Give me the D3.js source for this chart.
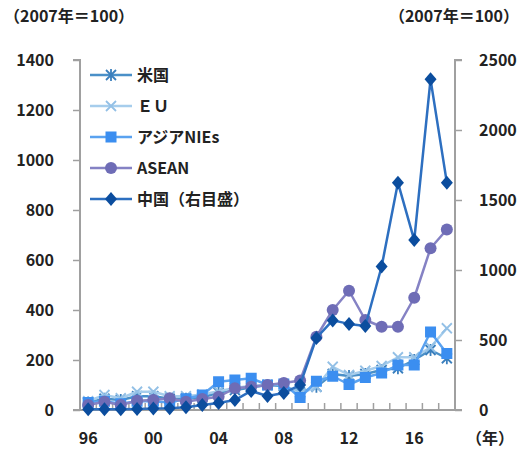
<!DOCTYPE html>
<html>
<head>
<meta charset="utf-8">
<script src="https://cdn.jsdelivr.net/npm/d3@7/dist/d3.min.js"></script>
<style>
  html, body { margin: 0; padding: 0; background: #fff; }
  svg { display: block; }
  text { font-family: "Noto Sans CJK JP", "Noto Sans", sans-serif; fill: #222; }
</style>
</head>
<body>
<svg id="chart" width="523" height="452"></svg>
<script>
// Years 1996–2018
const years = d3.range(1996, 2019);
const xTickLabels = ["96", "00", "04", "08", "12", "16"];

// Export indices (2007 = 100), left axis
const usa    = [30, 45, 40, 55, 55, 45, 45, 50, 70, 80, 90, 100, 95, 70, 93, 144, 136, 144, 160, 167, 200, 240, 207];
const eu     = [35, 60, 47, 73, 73, 55, 55, 62, 75, 88, 97, 100, 100, 65, 93, 173, 140, 157, 176, 211, 211, 251, 327];
const nies   = [30, 35, 25, 35, 35, 30, 45, 60, 113, 120, 127, 100, 104, 50, 115, 135, 102, 130, 148, 180, 180, 312, 226];
const asean  = [20, 33, 20, 37, 40, 47, 33, 44, 53, 87, 93, 100, 108, 118, 293, 400, 477, 360, 333, 333, 449, 647, 722];
// China, right axis
const china  = [5, 6, 6, 8, 10, 12, 20, 35, 50, 71, 136, 100, 121, 179, 515, 640, 615, 600, 1025, 1624, 1214, 2362, 1624];

const leftTicks = [0, 200, 400, 600, 800, 1000, 1200, 1400];
const rightTicks = [0, 500, 1000, 1500, 2000, 2500];
const legendNames = ["米国", "ＥＵ", "アジアNIEs", "ASEAN", "中国（右目盛）"];

const svg = d3.select("#chart");
const plotL = 80, plotR = 455, plotT = 60, plotB = 410;

const x = d3.scaleBand().domain(years).range([plotL, plotR]);
const yL = d3.scaleLinear().domain([0, 1400]).range([plotB, plotT]);
const yR = d3.scaleLinear().domain([0, 2500]).range([plotB, plotT]);
const cx = d => x(d) + x.bandwidth() / 2;

const axisColor = "#a0a0a0";

// Left axis
const gL = svg.append("g").attr("transform", `translate(${plotL},0)`)
  .call(d3.axisLeft(yL).tickValues(leftTicks).tickSize(7).tickPadding(19).tickFormat(d3.format("d")));
// Right axis
const gR = svg.append("g").attr("transform", `translate(${plotR},0)`)
  .call(d3.axisRight(yR).tickValues(rightTicks).tickSize(7).tickPadding(17).tickFormat(d3.format("d")));
[gL, gR].forEach(g => {
  g.select(".domain").attr("stroke", axisColor).attr("stroke-width", 2).attr("d",
    g === gL ? `M-7,${plotT}H0V${plotB}H-7` : `M7,${plotT}H0V${plotB}H7`);
  g.selectAll(".tick line").attr("stroke", axisColor).attr("stroke-width", 1.5);
  g.selectAll(".tick text").style("font-size", "16px").style("font-weight", "600").attr("fill", "#222");
});

// Bottom axis: baseline with category boundary ticks pointing up
svg.append("line").attr("x1", plotL).attr("x2", plotR).attr("y1", plotB).attr("y2", plotB)
  .attr("stroke", axisColor).attr("stroke-width", 2);
svg.append("g").selectAll("line").data(years.slice(1)).join("line")
  .attr("x1", d => x(d)).attr("x2", d => x(d))
  .attr("y1", plotB).attr("y2", plotB - 7)
  .attr("stroke", axisColor).attr("stroke-width", 1.5);

svg.append("g").selectAll("text").data(xTickLabels).join("text")
  .attr("x", (d, i) => cx(years[i * 4])).attr("y", 444)
  .attr("text-anchor", "middle").style("font-size", "16px").style("font-weight", "600")
  .text(d => d);
svg.append("text").attr("x", 490).attr("y", 444).attr("text-anchor", "middle")
  .style("font-size", "16px").style("font-weight", "600").text("（年）");

// Unit labels
svg.append("text").attr("x", 4).attr("y", 22).style("font-size", "16px").style("font-weight", "600").text("（2007年＝100）");
svg.append("text").attr("x", 519).attr("y", 22).attr("text-anchor", "end").style("font-size", "16px").style("font-weight", "600").text("（2007年＝100）");

// Series definitions
const series = [
  { name: legendNames[0], values: usa,   scale: yL, line: "#4a90c8", mark: "#3a7fbd", shape: "star" },
  { name: legendNames[1], values: eu,    scale: yL, line: "#a6cdec", mark: "#93c0e6", shape: "cross" },
  { name: legendNames[2], values: nies,  scale: yL, line: "#5aa2f0", mark: "#3b8ef0", shape: "square" },
  { name: legendNames[3], values: asean, scale: yL, line: "#8582c4", mark: "#6e6cb6", shape: "circle" },
  { name: legendNames[4], values: china, scale: yR, line: "#2d6fc0", mark: "#0b4d9e", shape: "diamond" }
];

function drawMarker(g, shape, color) {
  if (shape === "square") {
    g.append("rect").attr("x", -5.5).attr("y", -5.5).attr("width", 11).attr("height", 11).attr("fill", color);
  } else if (shape === "circle") {
    g.append("circle").attr("r", 6).attr("fill", color);
  } else if (shape === "diamond") {
    g.append("path").attr("d", "M0,-7L6,0L0,7L-6,0Z").attr("fill", color);
  } else if (shape === "cross") {
    g.append("path").attr("d", "M-5,-5L5,5M-5,5L5,-5").attr("stroke", color).attr("stroke-width", 1.8).attr("fill", "none");
  } else if (shape === "star") {
    g.append("path").attr("d", "M-5,-5L5,5M-5,5L5,-5M0,-6V6").attr("stroke", color).attr("stroke-width", 1.8).attr("fill", "none");
  }
}

series.forEach(s => {
  const line = d3.line().x((d, i) => cx(years[i])).y(d => s.scale(d));
  svg.append("path").datum(s.values).attr("d", line)
    .attr("fill", "none").attr("stroke", s.line).attr("stroke-width", 2.5).attr("stroke-linejoin", "round");
  const gm = svg.append("g");
  s.values.forEach((v, i) => {
    const m = gm.append("g").attr("transform", `translate(${cx(years[i])},${s.scale(v)})`);
    drawMarker(m, s.shape, s.mark);
  });
});

// Legend
const lg = svg.append("g");
series.forEach((s, i) => {
  const yy = 75 + i * 31;
  lg.append("line").attr("x1", 90).attr("x2", 132).attr("y1", yy).attr("y2", yy)
    .attr("stroke", s.line).attr("stroke-width", 2.5);
  drawMarker(lg.append("g").attr("transform", `translate(111,${yy})`), s.shape, s.mark);
  lg.append("text").attr("x", 137).attr("y", yy).attr("dy", "0.35em")
    .style("font-size", "16px").style("font-weight", "600").text(s.name);
});
</script>
</body>
</html>
